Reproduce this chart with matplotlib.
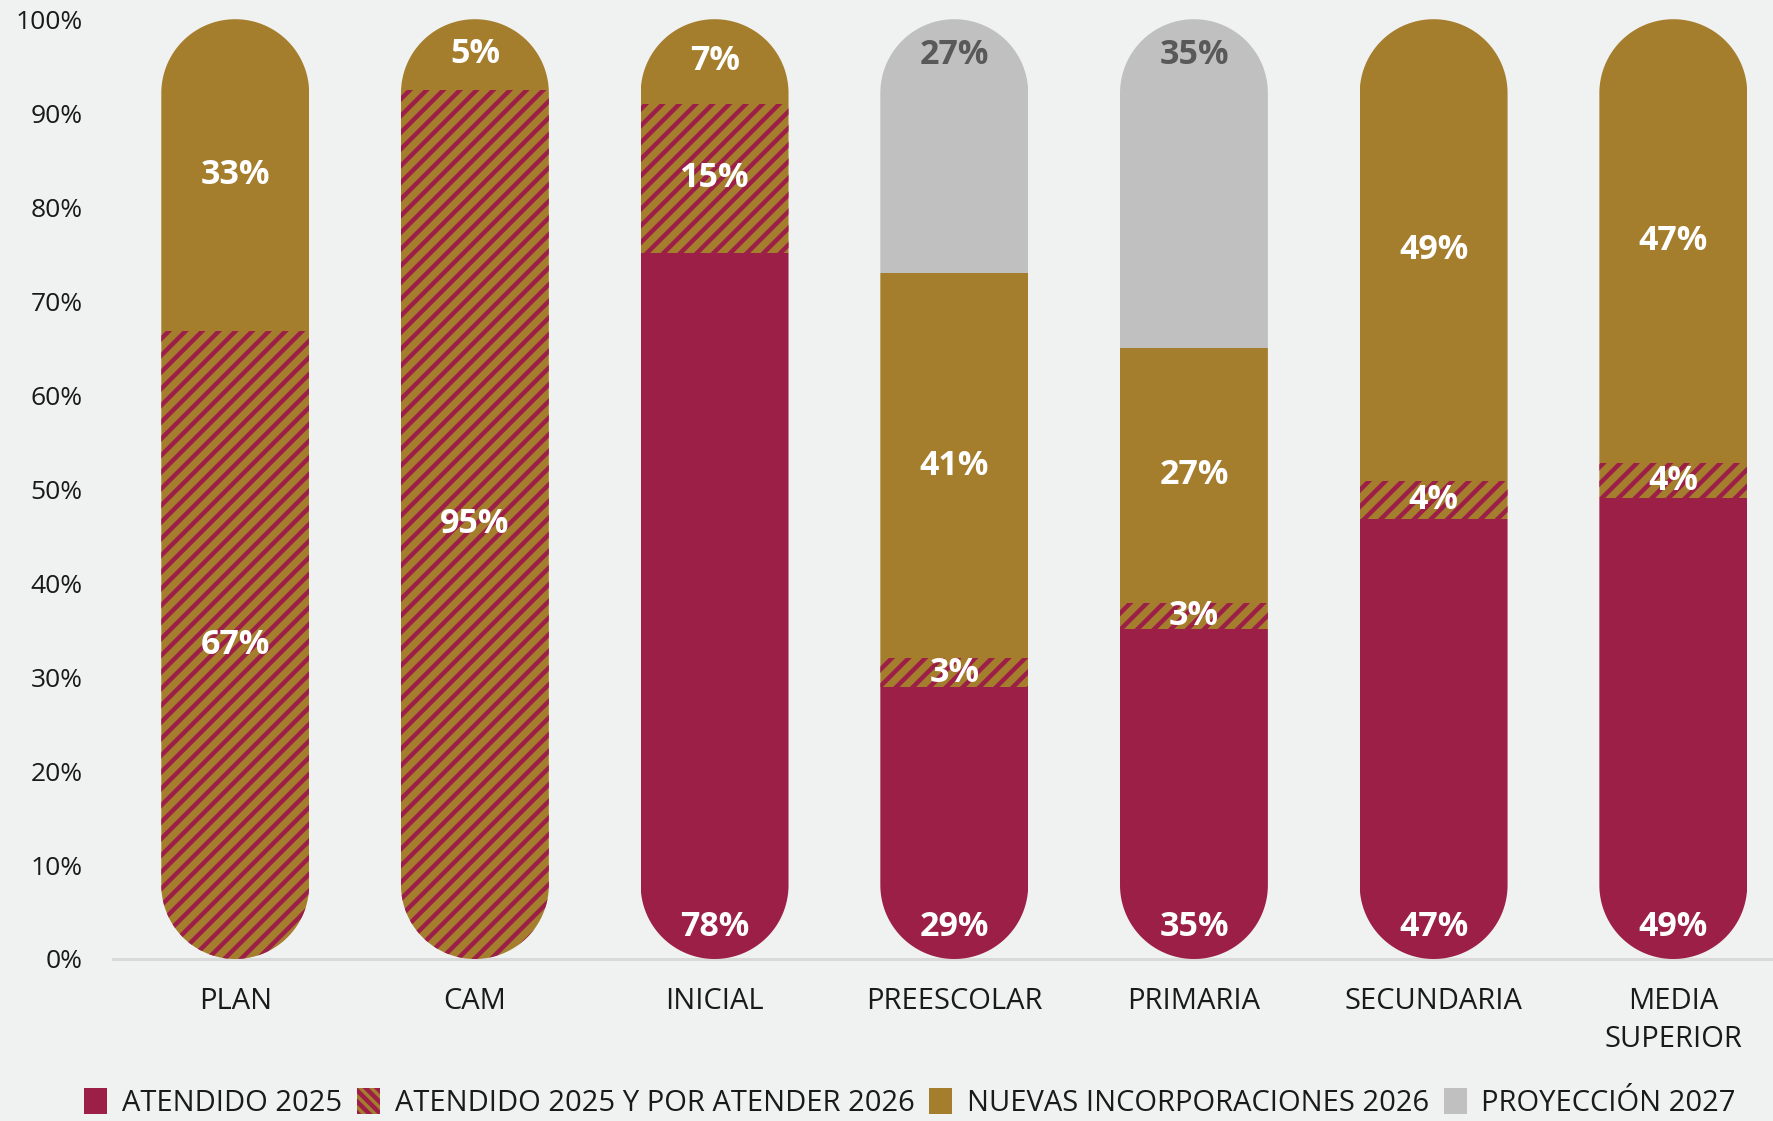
import numpy as np
import matplotlib
matplotlib.use('Agg')
import matplotlib.pyplot as plt
from matplotlib.patches import PathPatch, Patch
from matplotlib.path import Path
from matplotlib.transforms import Affine2D

# niveles educativos
categories = ['PLAN', 'CAM', 'INICIAL', 'PREESCOLAR', 'PRIMARIA', 'SECUNDARIA', 'MEDIA\nSUPERIOR']

# alturas de cada segmento (porcentaje)
atendido_2025 = [0, 0, 75.1, 28.9, 35.1, 46.8, 49.0]
atendido_y_por_atender = [66.8, 92.5, 15.9, 3.1, 2.8, 4.1, 3.8]
nuevas_2026 = [33.2, 7.5, 9.0, 41.0, 27.1, 49.1, 47.2]
proyeccion_2027 = [0, 0, 0, 27.0, 35.0, 0, 0]

# etiquetas mostradas
lab_atendido = ['', '', '78%', '29%', '35%', '47%', '49%']
lab_por_atender = ['67%', '95%', '15%', '3%', '3%', '4%', '4%']
lab_nuevas = ['33%', '5%', '7%', '41%', '27%', '49%', '47%']
lab_proyeccion = ['', '', '', '27%', '35%', '', '']

legend_labels = ['ATENDIDO 2025', 'ATENDIDO 2025 Y POR ATENDER 2026',
                 'NUEVAS INCORPORACIONES 2026', 'PROYECCIÓN 2027']

MAROON = '#9C1F48'
GOLD = '#A57E2D'
GRAY = '#C0C0C0'
BG = '#F0F1F1'


def stadium(cx, w, h, n=120):
    """Contorno de barra con extremos semicirculares (en pixeles)."""
    r = w / 2
    t = np.linspace(0, np.pi, n)
    top = np.column_stack([cx + r * np.cos(t), h - r + r * np.sin(t)])
    bot = np.column_stack([cx - r * np.cos(t), r - r * np.sin(t)])
    verts = np.vstack([top, bot, top[:1]])
    codes = [Path.MOVETO] + [Path.LINETO] * (len(verts) - 2) + [Path.CLOSEPOLY]
    return Path(verts, codes)


def main():
    plt.rcParams['font.family'] = ['Open Sans', 'DejaVu Sans']
    plt.rcParams['hatch.linewidth'] = 3.2

    W, H = 1773, 1121
    fig = plt.figure(figsize=(W / 100, H / 100), dpi=100)
    fig.patch.set_facecolor(BG)
    ax = fig.add_axes([113 / W, 1 - 959 / H, 1 - 113 / W, (959 - 19.2) / H])
    ax.set_facecolor(BG)

    x = np.arange(len(categories))
    width = 0.617
    ax.set_xlim(-0.51, 6.416)
    ax.set_ylim(0, 100)

    bottom = np.zeros(len(categories))
    segments = []
    for vals, kw in [
        (atendido_2025, dict(color=MAROON)),
        (atendido_y_por_atender, dict(facecolor=GOLD, edgecolor=MAROON, hatch='//', linewidth=0)),
        (nuevas_2026, dict(color=GOLD)),
        (proyeccion_2027, dict(color=GRAY)),
    ]:
        bars = ax.bar(x, vals, width, bottom=bottom, **kw)
        segments.append((bars, bottom.copy(), np.array(vals)))
        bottom += np.array(vals)

    # recorte con extremos redondeados (en pixeles para que sea circular)
    p0 = ax.transData.transform((0, 0))
    p1 = ax.transData.transform((1, 1))
    sx, sy = p1[0] - p0[0], p1[1] - p0[1]
    tr = Affine2D().scale(1 / sx, 1 / sy) + ax.transData
    for i in range(len(categories)):
        clip = PathPatch(stadium(i * sx, width * sx, 100 * sy), transform=tr)
        for bars, _, _ in segments:
            bars[i].set_clip_path(clip)

    # etiquetas de datos
    lab_font = dict(ha='center', va='center', fontsize=24.5, fontweight='bold')
    for i in range(len(categories)):
        if lab_atendido[i]:
            ax.text(i, 3.4, lab_atendido[i], color='white', **lab_font)
        b = segments[1][1][i] + atendido_y_por_atender[i] / 2
        ax.text(i, b, lab_por_atender[i], color='white', **lab_font)
        b = segments[2][1][i] + nuevas_2026[i] / 2
        ax.text(i, b, lab_nuevas[i], color='white', **lab_font)
        if lab_proyeccion[i]:
            ax.text(i, 96.2, lab_proyeccion[i], color='#595959', **lab_font)

    ax.set_yticks(np.arange(0, 101, 10))
    ax.set_yticklabels([f'{v}%' for v in range(0, 101, 10)])
    ax.set_xticks(x)
    ax.set_xticklabels(categories, linespacing=1.4)
    ax.tick_params(axis='y', length=0, pad=22, labelsize=19, labelcolor='#1a1a1a')
    ax.tick_params(axis='x', length=0, pad=20, labelsize=21, labelcolor='#1a1a1a')
    for s in ['top', 'right', 'left']:
        ax.spines[s].set_visible(False)
    ax.spines['bottom'].set_color('#D9D9D9')
    ax.spines['bottom'].set_linewidth(2.2)
    ax.spines['bottom'].set_zorder(0.5)

    handles = [
        Patch(facecolor=MAROON),
        Patch(facecolor=GOLD, edgecolor=MAROON, hatch='\\\\\\', linewidth=0),
        Patch(facecolor=GOLD),
        Patch(facecolor=GRAY),
    ]
    fig.legend(handles, legend_labels, loc='center', ncol=4,
               bbox_to_anchor=(910 / W, 1 - 1103 / H), frameon=False,
               fontsize=21, handlelength=0.8, handleheight=1.0,
               handletextpad=0.5, columnspacing=0.5, labelcolor='#1a1a1a')

    fig.savefig('out.png', dpi=100, facecolor=BG)


if __name__ == '__main__':
    main()
